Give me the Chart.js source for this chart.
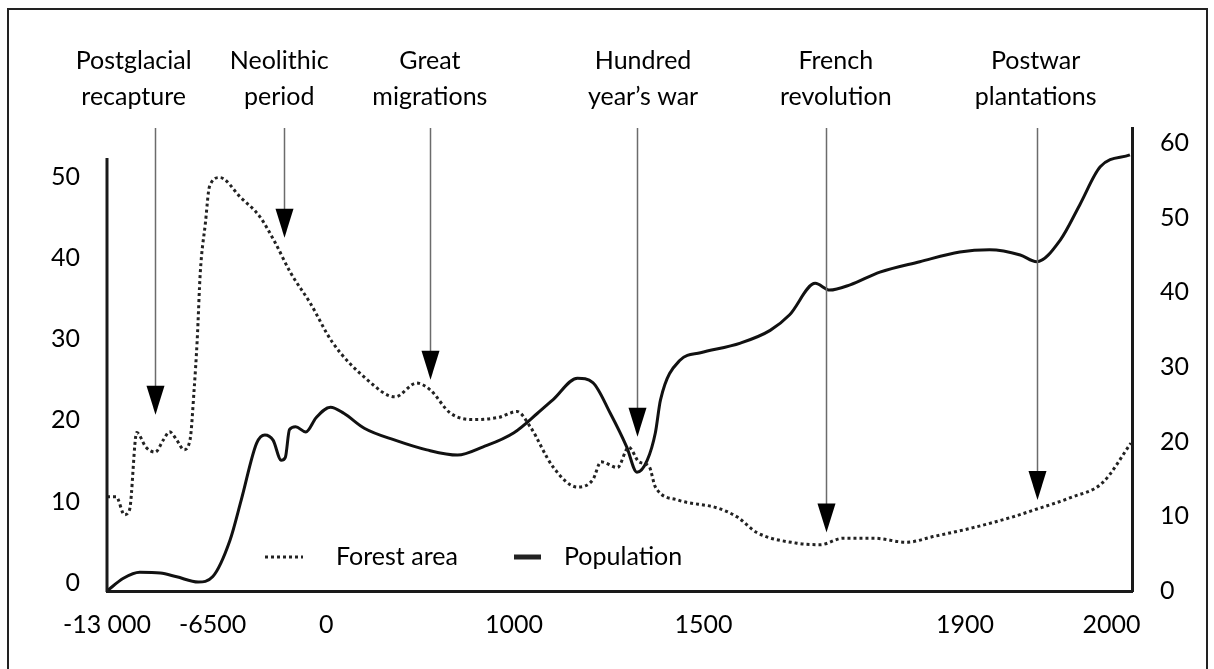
<!DOCTYPE html>
<html>
<head>
<meta charset="utf-8">
<script src="https://cdn.jsdelivr.net/npm/chart.js@4.4.1/dist/chart.umd.min.js"></script>
<style>
  html, body { margin: 0; padding: 0; background: #fff; }
  #wrap { width: 1214px; height: 669px; position: relative; }
</style>
</head>
<body>
<div id="wrap"><canvas id="forestChart"></canvas></div>
<script>
// x = position along the schematic (non-linear) time axis, 0-100
const forestX = [0, 0.9, 1.7, 2.2, 2.9, 3.8, 4.7, 5.5, 6.1, 6.8, 7.5, 8.1, 8.5, 8.8, 9.1, 9.6, 10.0, 11.0,
  13.0, 14.9, 16.4, 17.9, 19.8, 22.0, 25.4, 28.1, 30.2, 31.5, 33.5, 35.7, 38.3, 40.0, 41.3, 43.5, 45.9,
  47.4, 48.2, 49.8, 50.9, 51.9, 52.9, 53.5, 55.7, 59.6, 61.5, 63.4, 67.2, 69.6, 71.8, 74.8, 78.0, 80.6,
  84.5, 88.3, 90.5, 94.0, 97.1, 99.9];
const forestArea = [10.6, 10.6, 8.4, 9.0, 18.5, 16.7, 16.1, 17.6, 18.6, 17.6, 16.4, 17.6, 23.8, 29.9, 38.2, 44.3, 48.8, 49.9,
  47.5, 45.1, 41.9, 38.2, 34.5, 29.6, 25.0, 22.9, 24.6, 23.8, 20.9, 20.1, 20.4, 21.1, 19.2, 14.3, 11.8,
  12.7, 14.9, 14.2, 16.7, 14.9, 14.3, 11.8, 10.2, 9.2, 8.1, 6.2, 4.9, 4.7, 5.5, 5.5, 5.0, 5.7,
  6.8, 8.1, 9.0, 10.5, 12.3, 17.2];

const popX = [0, 1.6, 3.2, 5.2, 6.8, 8.9, 10.3, 12.0, 13.1, 14.6, 15.4, 16.2, 17.0, 17.4, 17.8, 18.4, 19.4, 20.4,
  21.8, 23.1, 25.1, 28.1, 31.2, 34.2, 36.7, 39.7, 42.0, 43.5, 45.9, 47.4, 49.1, 50.7, 51.7, 52.7, 53.5,
  54.0, 55.9, 57.9, 61.8, 64.7, 66.6, 69.1, 70.5, 72.5, 75.4, 79.3, 83.2, 86.1, 89.1, 90.7, 93.0, 94.9,
  96.9, 99.8];
const population = [0, 1.7, 2.5, 2.4, 1.9, 1.2, 1.9, 6.8, 12.2, 19.8, 20.9, 20.2, 17.5, 17.9, 21.6, 22.0, 21.3, 23.2,
  24.6, 23.8, 21.8, 20.2, 18.9, 18.2, 19.3, 21.2, 23.8, 25.6, 28.5, 27.9, 23.8, 19.3, 15.9, 17.5, 21.2,
  25.6, 30.9, 31.9, 33.2, 34.9, 37.0, 41.2, 40.3, 41.0, 42.7, 44.1, 45.4, 45.7, 45.0, 44.1, 47.0, 51.7,
  56.8, 58.4];

const xTickPos = [0, 10.3, 21.4, 39.7, 58.2, 83.7, 98.0];
const xTickLabels = ['-13 000', '-6500', '0', '1000', '1500', '1900', '2000'];
const leftTicks = [0, 10, 20, 30, 40, 50];
const rightTicks = [0, 10, 20, 30, 40, 50, 60];

const eventNames = [['Postglacial', 'recapture'], ['Neolithic', 'period'], ['Great', 'migrations'],
  ['Hundred', 'year\u2019s war'], ['French', 'revolution'], ['Postwar', 'plantations']];
const eventPos = [4.7, 17.3, 31.5, 51.7, 70.1, 90.7];
const eventLabelPos = [2.6, 16.8, 31.5, 52.3, 71.1, 90.6];
const eventTip = [20.7, 42.5, 25.0, 18.0, 6.2, 10.2]; // forest-axis value the arrow points to

const FONT = 'Lato, "Open Sans", sans-serif';
const FONT_SIZE = 25;

const overlay = {
  id: 'overlay',
  afterDatasetsDraw(chart) {
    const { ctx, chartArea, scales } = chart;
    const x = scales.x, yL = scales.yL;
    ctx.save();

    // left axis line stops short of the top
    ctx.strokeStyle = '#1a1a1a';
    ctx.lineWidth = 3;
    ctx.beginPath();
    ctx.moveTo(chartArea.left, yL.getPixelForValue(52.3));
    ctx.lineTo(chartArea.left, chartArea.bottom + 1);
    ctx.stroke();

    // event arrows + labels
    ctx.font = FONT_SIZE + 'px ' + FONT;
    ctx.textAlign = 'center';
    ctx.textBaseline = 'middle';
    eventPos.forEach((p, i) => {
      const px = Math.round(x.getPixelForValue(p)) + 0.5;
      const tip = yL.getPixelForValue(eventTip[i]);
      ctx.strokeStyle = '#6b6b6b';
      ctx.lineWidth = 1.5;
      ctx.beginPath();
      ctx.moveTo(px, chartArea.top);
      ctx.lineTo(px, tip - 26);
      ctx.stroke();
      ctx.fillStyle = '#000';
      ctx.beginPath();
      ctx.moveTo(px - 9, tip - 29);
      ctx.lineTo(px + 9, tip - 29);
      ctx.lineTo(px, tip);
      ctx.closePath();
      ctx.fill();

      const lx = x.getPixelForValue(eventLabelPos[i]);
      eventNames[i].forEach((t, j) => ctx.fillText(t, lx, 61 + j * 36));
    });

    // legend
    const ds = chart.data.datasets;
    const ly = 557;
    ctx.textAlign = 'left';
    ctx.strokeStyle = '#222';
    ctx.lineWidth = 3;
    ctx.setLineDash(ds[0].borderDash);
    ctx.beginPath(); ctx.moveTo(265, ly); ctx.lineTo(303, ly); ctx.stroke();
    ctx.setLineDash([]);
    ctx.lineWidth = 5;
    ctx.beginPath(); ctx.moveTo(514, ly); ctx.lineTo(541, ly); ctx.stroke();
    ctx.fillStyle = '#000';
    ctx.fillText(ds[0].label, 336, ly);
    ctx.fillText(ds[1].label, 564, ly);

    // outer frame
    ctx.strokeStyle = '#222';
    ctx.lineWidth = 2;
    ctx.strokeRect(8, 9, 1199, 700);
    ctx.restore();
  }
};

function initChart() {
  const canvas = document.getElementById('forestChart');
  const tickFont = { family: FONT, size: FONT_SIZE };
  new Chart(canvas, {
    type: 'line',
    data: {
      datasets: [
        {
          label: 'Forest area',
          data: forestX.map((v, i) => ({ x: v, y: forestArea[i] })),
          yAxisID: 'yL',
          borderColor: '#222',
          borderWidth: 3,
          borderDash: [3, 3],
          pointRadius: 0,
          cubicInterpolationMode: 'monotone'
        },
        {
          label: 'Population',
          data: popX.map((v, i) => ({ x: v, y: population[i] })),
          yAxisID: 'yR',
          borderColor: '#111',
          borderWidth: 3,
          pointRadius: 0,
          cubicInterpolationMode: 'monotone'
        }
      ]
    },
    options: {
      responsive: true,
      maintainAspectRatio: false,
      animation: false,
      layout: { padding: { top: 128, left: 0, right: 0, bottom: 0 } },
      plugins: { legend: { display: false }, tooltip: { enabled: false } },
      scales: {
        x: {
          type: 'linear',
          min: 0,
          max: 100,
          afterFit: (s) => { s.height = 78; },
          afterBuildTicks: (s) => { s.ticks = xTickPos.map(v => ({ value: v })); },
          grid: { display: false, drawTicks: false },
          border: { display: true, color: '#1a1a1a', width: 3 },
          ticks: {
            autoSkip: false,
            maxRotation: 0,
            padding: 19,
            color: '#000',
            font: tickFont,
            callback: (v, i) => xTickLabels[i]
          }
        },
        yL: {
          type: 'linear',
          position: 'left',
          min: -1,
          max: 56,
          afterFit: (s) => { s.width = 107; },
          afterBuildTicks: (s) => { s.ticks = leftTicks.map(v => ({ value: v })); },
          grid: { display: false, drawTicks: false },
          border: { display: false },
          ticks: { padding: 27, color: '#000', font: tickFont }
        },
        yR: {
          type: 'linear',
          position: 'right',
          min: 0,
          max: 62,
          afterFit: (s) => { s.width = 82; },
          afterBuildTicks: (s) => { s.ticks = rightTicks.map(v => ({ value: v })); },
          grid: { display: false, drawTicks: false },
          border: { display: true, color: '#1a1a1a', width: 3 },
          ticks: { padding: 28, color: '#000', font: tickFont }
        }
      }
    },
    plugins: [overlay]
  });
}

document.addEventListener('DOMContentLoaded', initChart);
</script>
</body>
</html>
